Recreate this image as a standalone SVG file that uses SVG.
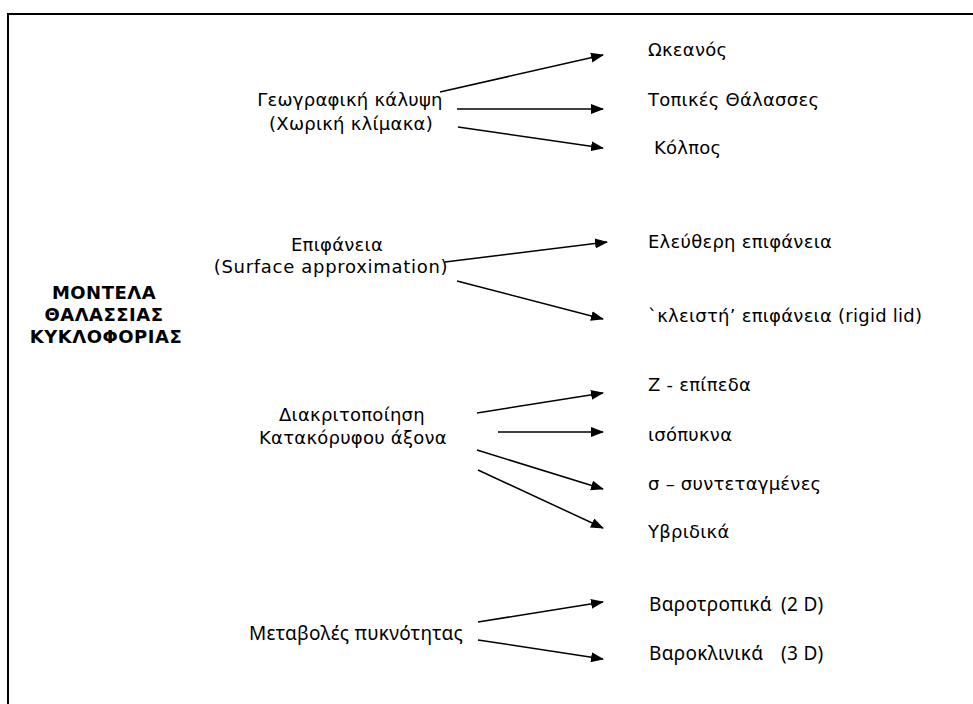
<svg xmlns="http://www.w3.org/2000/svg" width="973" height="704" viewBox="0 0 973 704">
<style>
.t{font-family:"DejaVu Sans",Verdana,sans-serif;font-size:18px;letter-spacing:0.25px;fill:#000}
.c{text-anchor:middle}
.n{font-family:"Noto Sans","Open Sans",sans-serif;font-size:19px;letter-spacing:0.3px;fill:#000}
.b{font-family:"DejaVu Sans",Verdana,sans-serif;font-size:18px;letter-spacing:0.5px;font-weight:bold;fill:#000;text-anchor:middle}
.a{stroke:#000;stroke-width:1.5;fill:none;marker-end:url(#ah)}
</style>
<defs>
<marker id="ah" viewBox="0 0 13 10" refX="12" refY="5" markerWidth="13" markerHeight="10" markerUnits="userSpaceOnUse" orient="auto">
<path d="M0,0 L13,5 L0,10 z" fill="#000"/>
</marker>
</defs>
<rect width="973" height="704" fill="#fff"/>
<rect x="8" y="14" width="980" height="720" fill="none" stroke="#000" stroke-width="2"/>
<g id="title"><text class="b"><tspan x="104" y="299">ΜΟΝΤΕΛΑ</tspan><tspan x="104" y="321">ΘΑΛΑΣΣΙΑΣ</tspan><tspan x="106" y="343">ΚΥΚΛΟΦΟΡΙΑΣ</tspan></text></g>
<g id="geo"><text class="t c"><tspan x="350" y="106">Γεωγραφική κάλυψη</tspan><tspan x="351" y="130">(Χωρική κλίμακα)</tspan></text></g>
<g id="surf"><text class="t c"><tspan x="337" y="251">Επιφάνεια</tspan><tspan x="331" y="273" letter-spacing="0.7">(Surface approximation)</tspan></text></g>
<g id="vert"><text class="t c"><tspan x="352" y="421">Διακριτοποίηση</tspan><tspan x="353" y="444">Κατακόρυφου άξονα</tspan></text></g>
<g id="dens"><text class="n c"><tspan x="356" y="640">Μεταβολές πυκνότητας</tspan></text></g>
<g id="ocean"><text class="t" x="648" y="56">Ωκεανός</text></g>
<g id="seas"><text class="t" x="648" y="106">Τοπικές Θάλασσες</text></g>
<g id="gulf"><text class="t" x="654" y="154">Κόλπος</text></g>
<g id="free"><text class="t" x="648" y="248">Ελεύθερη επιφάνεια</text></g>
<g id="rigid"><text class="t" x="648" y="322">`κλειστή’ επιφάνεια (rigid lid)</text></g>
<g id="z"><text class="t" x="648" y="391">Z - επίπεδα</text></g>
<g id="iso"><text class="t" x="648" y="441">ισόπυκνα</text></g>
<g id="sigma"><text class="t" x="648" y="490">σ – συντεταγμένες</text></g>
<g id="hyb"><text class="t" x="648" y="538">Υβριδικά</text></g>
<g id="baro"><text class="n" y="611"><tspan x="649">Βαροτροπικά</tspan><tspan x="781">(2 D)</tspan></text></g>
<g id="barc"><text class="n" y="660"><tspan x="649">Βαροκλινικά</tspan><tspan x="781">(3 D)</tspan></text></g>
<g id="connectors">
<line class="a" x1="440" y1="92" x2="603" y2="55"/>
<line class="a" x1="457" y1="109" x2="603" y2="109"/>
<line class="a" x1="458" y1="127" x2="603" y2="148"/>
<line class="a" x1="445" y1="262" x2="607" y2="242"/>
<line class="a" x1="457" y1="281" x2="603" y2="319"/>
<line class="a" x1="477" y1="413" x2="603" y2="393"/>
<line class="a" x1="498" y1="432" x2="603" y2="432"/>
<line class="a" x1="477" y1="450" x2="603" y2="489"/>
<line class="a" x1="478" y1="470" x2="603" y2="528"/>
<line class="a" x1="478" y1="622" x2="603" y2="602"/>
<line class="a" x1="478" y1="640" x2="603" y2="659"/>
</g>
</svg>
